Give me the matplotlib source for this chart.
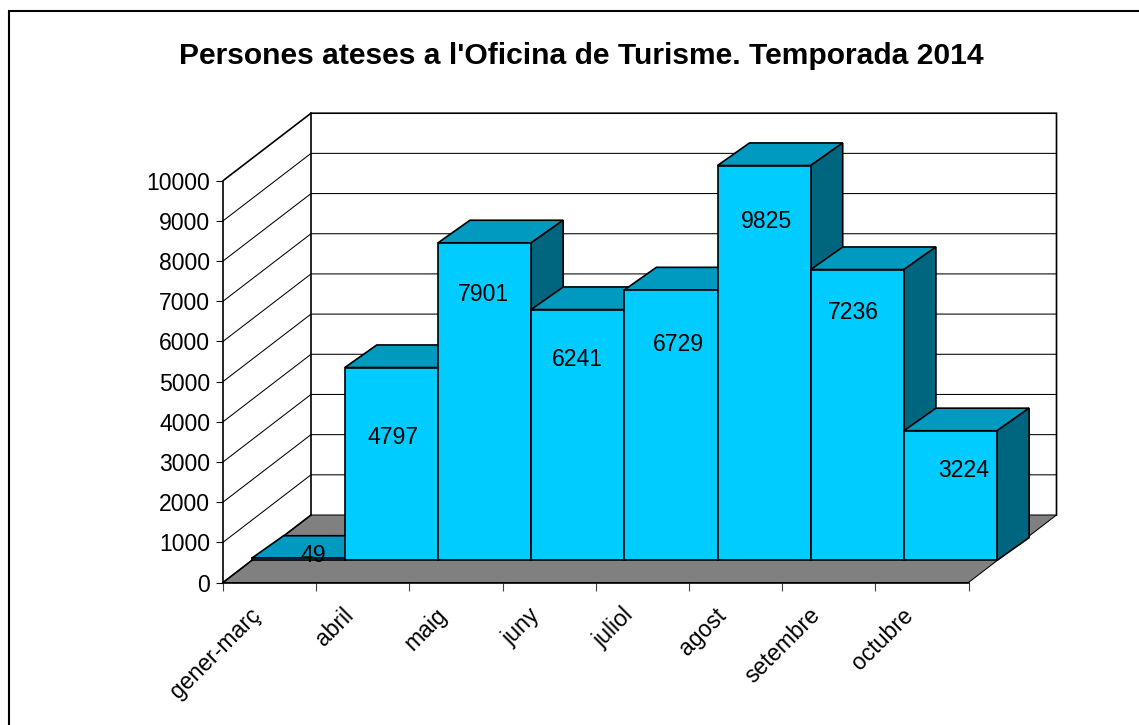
import matplotlib
matplotlib.use("Agg")
import matplotlib.pyplot as plt
from matplotlib.patches import Polygon, Rectangle

# ---- data ----
categories = ["gener-març", "abril", "maig", "juny", "juliol", "agost", "setembre", "octubre"]
values = [49, 4797, 7901, 6241, 6729, 9825, 7236, 3224]
y_ticks = [0, 1000, 2000, 3000, 4000, 5000, 6000, 7000, 8000, 9000, 10000]
title = "Persones ateses a l'Oficina de Turisme. Temporada 2014"

# ---- layout (pixels of the reference) ----
W, H = 1139, 725
X0, X1, Y0, Y1 = 223.0, 968.5, 582.5, 180.7
PX_X = (X1 - X0) / len(categories)   # pixels per category
PX_Y = (Y0 - Y1) / 10000.0           # pixels per value unit

# oblique depth expressed in data units
def dxp(px): return px / PX_X
def dyp(px): return px / PX_Y
FLOOR_DX, FLOOR_DY = dxp(88), dyp(67.5)
BAR_OFF_DX, BAR_OFF_DY = dxp(28.6), dyp(22.2)
BAR_D_DX, BAR_D_DY = dxp(32), dyp(22.6)

# label offsets in px from (bar centre, bar top)
label_dx = [15, 2, -1, 0, 7, 2, -4, 13]
label_dy = [3, -70, -52, -50, -55, -56, -43, -40]

plt.rcParams["font.family"] = ["Liberation Sans", "DejaVu Sans"]
fig = plt.figure(figsize=(W / 100, H / 100), dpi=100, facecolor="white")

# outer frame (runs off the right and bottom edges of the picture)
frame = Rectangle((9 / W, 1 - 740 / H), (1160 - 9) / W, (740 - 11) / H,
                  transform=fig.transFigure, fill=False, ec="black", lw=1.5)
fig.add_artist(frame)

ax = fig.add_axes([X0 / W, 1 - Y0 / H, (X1 - X0) / W, (Y0 - Y1) / H])
ax.set_xlim(0, len(categories))
ax.set_ylim(0, 10000)
ax.patch.set_visible(False)
for s in ax.spines.values():
    s.set_visible(False)

LW_THIN = 0.75
LW = 1.2
FS = 16.6

def poly(pts, fc, lw=LW, z=2, ec="black"):
    ax.add_patch(Polygon(pts, closed=True, fc=fc, ec=ec, lw=lw, zorder=z,
                         clip_on=False, joinstyle="miter"))

n = len(categories)
top = y_ticks[-1]

# floor
poly([(0, 0), (n, 0), (n + FLOOR_DX, FLOOR_DY), (FLOOR_DX, FLOOR_DY)], "#808080", lw=LW_THIN, z=1)

# gridlines on the walls
for t in y_ticks[1:-1]:
    ax.plot([0, FLOOR_DX, n + FLOOR_DX], [t, t + FLOOR_DY, t + FLOOR_DY], color="black",
            lw=LW_THIN, zorder=1.5, clip_on=False, solid_joinstyle="miter")

# wall edges
ax.plot([0, 0, FLOOR_DX, n + FLOOR_DX, n + FLOOR_DX],
        [0, top, top + FLOOR_DY, top + FLOOR_DY, FLOOR_DY],
        color="black", lw=LW, zorder=1.6, clip_on=False, solid_joinstyle="miter")
ax.plot([FLOOR_DX, FLOOR_DX], [FLOOR_DY, top + FLOOR_DY], color="black", lw=LW, zorder=1.6, clip_on=False)
ax.plot([0, FLOOR_DX], [0, FLOOR_DY], color="black", lw=LW, zorder=1.6, clip_on=False)

# bars
for i, v in enumerate(values):
    z = 2 + i * 0.01
    l = i + BAR_OFF_DX
    r = l + 1
    b = BAR_OFF_DY
    t = b + v
    poly([(l, t), (r, t), (r + BAR_D_DX, t + BAR_D_DY), (l + BAR_D_DX, t + BAR_D_DY)], "#0099C0", z=z)
    poly([(r, b), (r + BAR_D_DX, b + BAR_D_DY), (r + BAR_D_DX, t + BAR_D_DY), (r, t)], "#006680", z=z)
    poly([(l, b), (r, b), (r, t), (l, t)], "#00CCFF", z=z + 0.001)
    ax.annotate(str(v), xy=(l + 0.5, t), xytext=(label_dx[i] * 0.72, label_dy[i] * 0.72),
                textcoords="offset points", ha="center", va="center",
                fontsize=FS, color="black", zorder=5, annotation_clip=False)

# axes ticks and labels
ax.set_yticks(y_ticks)
ax.set_yticklabels([str(t) for t in y_ticks], fontsize=FS)
ax.set_xticks(range(n + 1))
ax.set_xticklabels([""] * (n + 1))
ax.tick_params(axis="y", length=5, width=0.8, pad=4.2, color="black")
ax.tick_params(axis="x", length=5.5, width=0.8, color="#404040")
ax.plot([0, n], [0, 0], color="black", lw=LW, zorder=1.7, clip_on=False)

for i, c in enumerate(categories):
    ax.annotate(c, xy=(i + 0.5, 0), xytext=(-14.8, -15.2), textcoords="offset points",
                rotation=45, rotation_mode="anchor", ha="right", va="top",
                fontsize=FS, color="black", annotation_clip=False)

fig.text(581 / W, 1 - 56.5 / H, title, ha="center", va="center",
         fontsize=21.65, fontweight="bold", color="black")

fig.savefig("out.png", dpi=100, facecolor="white")
